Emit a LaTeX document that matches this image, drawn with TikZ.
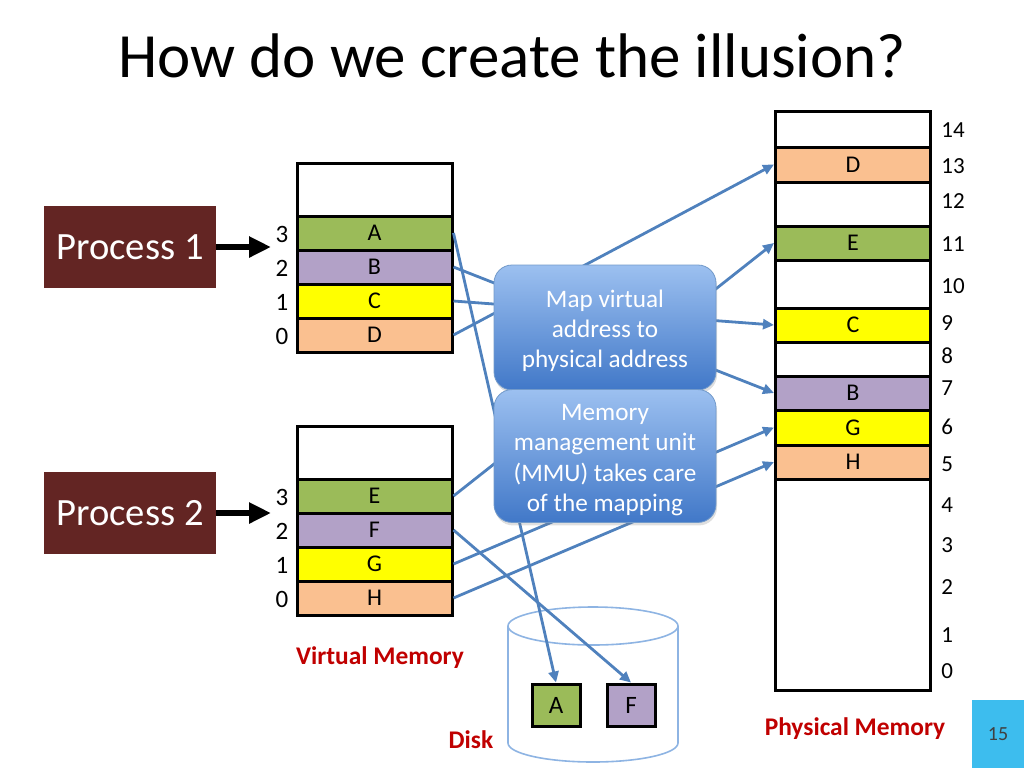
\documentclass[tikz,border=0pt]{standalone}
\usepackage{fontspec}
\setmainfont{Carlito}
\usetikzlibrary{arrows.meta,shadows}

\definecolor{procred}{HTML}{632523}
\definecolor{pgreen}{HTML}{9BBB59}
\definecolor{ppurple}{HTML}{B2A1C7}
\definecolor{pyellow}{HTML}{FFFF00}
\definecolor{ppeach}{HTML}{FAC090}
\definecolor{linkblue}{HTML}{4F81BD}
\definecolor{labelred}{HTML}{C00000}
\definecolor{mmutop}{HTML}{9CC0F0}
\definecolor{mmubot}{HTML}{4178C8}
\definecolor{diskline}{HTML}{8EB4E3}
\definecolor{pagecyan}{HTML}{3DBDEE}
\definecolor{pagetext}{HTML}{404040}

\tikzset{
cell/.style={
  rectangle,
  draw,
  line width=1.5pt,
  inner sep=0pt,
  minimum width=77.5pt,
  font=\fontsize{12}{14}\selectfont,
},
diskcell/.style={
  rectangle,
  draw,
  line width=1.5pt,
  inner sep=0pt,
  minimum width=24pt,
  minimum height=21pt,
  font=\fontsize{12.5}{15}\selectfont,
},
virtindex/.style={
  rectangle,
  draw=none,
  inner sep=0pt,
  font=\fontsize{12.5}{15}\selectfont,
},
physindex/.style={
  rectangle,
  draw=none,
  inner sep=0pt,
  anchor=west,
  font=\fontsize{11.5}{14}\selectfont,
},
process/.style={
  rectangle,
  fill=procred,
  text=white,
  minimum width=86pt,
  minimum height=41pt,
  font=\fontsize{19.3}{23}\selectfont,
},
mmu/.style={
  rectangle,
  rounded corners=9pt,
  draw=linkblue!80,
  top color=mmutop,
  bottom color=mmubot,
  drop shadow={shadow xshift=0.5pt, shadow yshift=-1.5pt, opacity=0.25},
  text=white,
  align=center,
  minimum width=111pt,
  minimum height=62.5pt,
  font=\fontsize{12.6}{15.2}\selectfont,
},
memlabel/.style={
  rectangle,
  draw=none,
  inner sep=0pt,
  text=labelred,
  font=\bfseries\fontsize{12.7}{15}\selectfont,
},
maplink/.style={->, draw=linkblue, line width=1.4pt},
bigarrow/.style={-{Triangle[length=11pt,width=10pt]}, line width=3pt},
}

\begin{document}
\begin{tikzpicture}[x=0.5pt, y=-0.5pt, >={Triangle[length=5.5pt,width=5pt]}]
\useasboundingbox (0,0) rectangle (1024,768);
%title
\node[anchor=base, font=\fontsize{31.5}{38}\selectfont](title) at (512,77) {How do we create the illusion?};

%processes
\node[process](proc1) at (130,247) {Process 1};
\node[process](proc2) at (130,513) {Process 2};
\coordinate (in1) at (271,247);
\coordinate (in2) at (271,513);
\draw[bigarrow](proc1) -- (in1);
\draw[bigarrow](proc2) -- (in2);

%virtual memory, process 1
\node[cell, minimum height=26.5pt](v1top) at (374.5,189.5) {};
\node[cell, fill=pgreen, minimum height=17pt](vA) at (374.5,233) {A};
\node[cell, fill=ppurple, minimum height=17pt](vB) at (374.5,267) {B};
\node[cell, fill=pyellow, minimum height=17pt](vC) at (374.5,301) {C};
\node[cell, fill=ppeach, minimum height=17pt](vD) at (374.5,335) {D};
\foreach \n/\y in {3/234,2/268,1/302,0/336}
  \node[virtindex](v1i\n) at (282,\y) {\n};

%virtual memory, process 2
\node[cell, minimum height=26.5pt](v2top) at (374.5,452.5) {};
\node[cell, fill=pgreen, minimum height=17pt](vE) at (374.5,496) {E};
\node[cell, fill=ppurple, minimum height=17pt](vF) at (374.5,530) {F};
\node[cell, fill=pyellow, minimum height=17pt](vG) at (374.5,564) {G};
\node[cell, fill=ppeach, minimum height=17pt](vH) at (374.5,598) {H};
\foreach \n/\y in {3/497,2/531,1/565,0/599}
  \node[virtindex](v2i\n) at (282,\y) {\n};
\node[memlabel](vmem) at (380,658) {Virtual Memory};

%physical memory
\node[cell, minimum height=18pt](p14) at (853,129) {};
\node[cell, fill=ppeach, minimum height=17.5pt](pD) at (853,164.5) {D};
\node[cell, minimum height=22pt](p12) at (853,204) {};
\node[cell, fill=pgreen, minimum height=17pt](pE) at (853,243) {E};
\node[cell, minimum height=24pt](p10) at (853,284) {};
\node[cell, fill=pyellow, minimum height=17pt](pC) at (853,325) {C};
\node[cell, minimum height=17pt](p8) at (853,359) {};
\node[cell, fill=ppurple, minimum height=17pt](pB) at (853,393) {B};
\node[cell, fill=pyellow, minimum height=17.5pt](pG) at (853,427.5) {G};
\node[cell, fill=ppeach, minimum height=17pt](pH) at (853,462) {H};
\node[cell, minimum height=105.5pt](p0) at (853,584.5) {};
\foreach \n/\y in {14/130,13/166,12/201,11/244,10/286,9/323,8/356,7/388,6/427,5/464,4/505,3/545,2/587,1/635,0/671}
  \node[physindex](pi\n) at (941,\y) {\n};
\node[memlabel](pmem) at (855,729) {Physical Memory};

%disk
\draw[diskline, line width=0.8pt, fill=white] (508,626) -- (508,743)
  arc[start angle=180, end angle=360, x radius=42.5pt, y radius=9.5pt] -- (678,626);
\draw[diskline, line width=0.8pt] (593,626) ellipse [x radius=42.5pt, y radius=9.5pt];
\node[diskcell, fill=pgreen](dA) at (556,705) {A};
\node[diskcell, fill=ppurple](dF) at (631,705) {F};
\node[memlabel](disk) at (471,740) {Disk};

%mapping
\draw[maplink](vA.east) -- (dA.north);
\draw[maplink](vB.east) -- (pB.west);
\draw[maplink](vC.east) -- (pC.west);
\draw[maplink](vD.east) -- (pD.west);
\draw[maplink](vE.east) -- (pE.west);
\draw[maplink](vF.east) -- (dF.north);
\draw[maplink](vG.east) -- (pG.west);
\draw[maplink](vH.east) -- (pH.west);

%mmu
\node[mmu](map) at (605,327.5) {\rule{0pt}{12pt}Map virtual\\address to\\physical address};
\node[mmu, minimum height=63pt](mmu) at (605,456) {\rule{0pt}{12pt}Memory\\management unit\\(MMU) takes care\\of the mapping};

%page number
\node[rectangle, fill=pagecyan, text=pagetext, minimum width=26pt, minimum height=34pt, inner sep=0pt, font=\fontsize{10}{12}\selectfont](page) at (998,734) {15};

\end{tikzpicture}
\end{document}
